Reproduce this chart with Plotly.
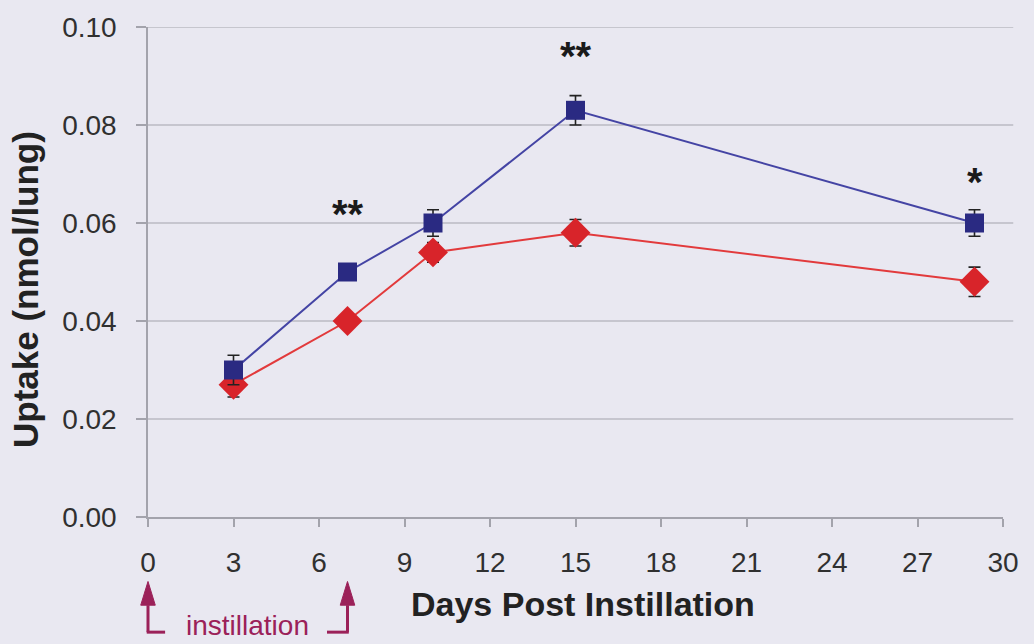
import plotly.graph_objects as go

# ---- data ----
days = [3, 7, 10, 15, 29]
blue_vals = [0.030, 0.050, 0.060, 0.083, 0.060]
blue_err = [0.003, 0.001, 0.0027, 0.003, 0.0027]
red_vals = [0.027, 0.040, 0.054, 0.058, 0.048]
red_err = [0.0025, 0.001, 0.002, 0.0027, 0.003]
x_ticks = [0, 3, 6, 9, 12, 15, 18, 21, 24, 27, 30]
y_ticks = [0.00, 0.02, 0.04, 0.06, 0.08, 0.10]
y_tick_labels = ["0.00", "0.02", "0.04", "0.06", "0.08", "0.10"]
sig_days = [7, 15, 29]
sig_marks = ["**", "**", "*"]
sig_heights = [0.0618, 0.0940, 0.0683]
instill_days = [0, 7]

BG = "#E9E8F1"
GRID = "#A3A3AC"
TXT = "#303030"
MAROON = "#9B2159"
FONT = "Liberation Sans, Arial, sans-serif"

X_RANGE = [x_ticks[0], x_ticks[-1]]


def xp(d):
    """data x -> paper x (used for decorations drawn outside the plot area)"""
    return (d - X_RANGE[0]) / (X_RANGE[1] - X_RANGE[0])


fig = go.Figure()

# gridlines extending slightly past the x-axis end
shapes = []
for yv in y_ticks[1:]:
    shapes.append(dict(type="line", xref="x domain", yref="y", x0=0, x1=1.012,
                       y0=yv, y1=yv, line=dict(color=GRID, width=1), layer="below"))

fig.add_trace(go.Scatter(
    x=days, y=red_vals, mode="lines+markers",
    line=dict(color="#E23A3C", width=2),
    marker=dict(symbol="diamond", size=23, color="#D8242A"),
    error_y=dict(type="data", array=red_err, visible=True, color="#222222",
                 thickness=1.6, width=6),
    showlegend=False))

fig.add_trace(go.Scatter(
    x=days, y=blue_vals, mode="lines+markers",
    line=dict(color="#4444A4", width=2),
    marker=dict(symbol="square", size=19, color="#2A2A82"),
    error_y=dict(type="data", array=blue_err, visible=True, color="#222222",
                 thickness=1.6, width=6),
    showlegend=False))

annotations = []
for d, m, h in zip(sig_days, sig_marks, sig_heights):
    annotations.append(dict(x=d, y=h, xref="x", yref="y", text="<b>%s</b>" % m,
                            showarrow=False, font=dict(family=FONT, size=40, color="#1A1A1A"),
                            xanchor="center", yanchor="middle"))

# instillation arrows (paper coordinates so they are not clipped)
y_head_top = -0.1316
y_head_bot = -0.180
y_foot = -0.235
head_half = 0.0085
for d in instill_days:
    px = xp(d)
    shapes.append(dict(type="path", xref="paper", yref="paper",
                       path="M %f,%f L %f,%f L %f,%f Z" % (px - head_half, y_head_bot, px, y_head_top,
                                                           px + head_half, y_head_bot),
                       fillcolor=MAROON, line=dict(color=MAROON, width=1)))
    shapes.append(dict(type="line", xref="paper", yref="paper", x0=px, x1=px,
                       y0=y_head_bot, y1=y_foot, line=dict(color=MAROON, width=3)))
shapes.append(dict(type="line", xref="paper", yref="paper", x0=xp(instill_days[0]) - 0.0015,
                   x1=xp(instill_days[0]) + 0.02,
                   y0=y_foot, y1=y_foot, line=dict(color=MAROON, width=3)))
shapes.append(dict(type="line", xref="paper", yref="paper", x0=xp(instill_days[1]) - 0.024,
                   x1=xp(instill_days[1]) + 0.0015,
                   y0=y_foot, y1=y_foot, line=dict(color=MAROON, width=3)))
annotations.append(dict(x=xp((instill_days[0] + instill_days[1]) / 2), y=-0.222, xref="paper",
                        yref="paper", text="instillation", showarrow=False,
                        xanchor="center", yanchor="middle",
                        font=dict(family=FONT, size=28, color=MAROON)))

# axis titles
annotations.append(dict(x=xp(15.25), y=-0.178, xref="paper", yref="paper",
                        text="<b>Days Post Instillation</b>", showarrow=False,
                        xanchor="center", yanchor="middle",
                        font=dict(family=FONT, size=34, color="#222222")))
annotations.append(dict(x=-0.144, y=0.465, xref="paper", yref="paper",
                        text="<b>Uptake (nmol/lung)</b>", showarrow=False, textangle=-90,
                        xanchor="center", yanchor="middle",
                        font=dict(family=FONT, size=35, color="#222222")))

fig.update_layout(
    width=1034, height=644,
    margin=dict(l=148, r=31, t=23, b=127),
    paper_bgcolor=BG, plot_bgcolor=BG,
    font=dict(family=FONT, color=TXT),
    shapes=shapes, annotations=annotations,
    xaxis=dict(range=X_RANGE, tickvals=x_ticks, showgrid=False, zeroline=False,
               showline=True, linecolor=GRID, linewidth=1.5,
               ticks="outside", ticklen=8, tickcolor=GRID, tickwidth=1.5,
               tickfont=dict(size=28, color=TXT), ticklabelstandoff=12),
    yaxis=dict(range=[0, 0.10], tickvals=y_ticks, ticktext=y_tick_labels, showgrid=False,
               zeroline=False, showline=True, linecolor=GRID, linewidth=1.5,
               ticks="outside", ticklen=10, tickcolor=GRID, tickwidth=1.5,
               tickfont=dict(size=28, color=TXT), ticklabelstandoff=14),
)

fig.write_html("out.html")
